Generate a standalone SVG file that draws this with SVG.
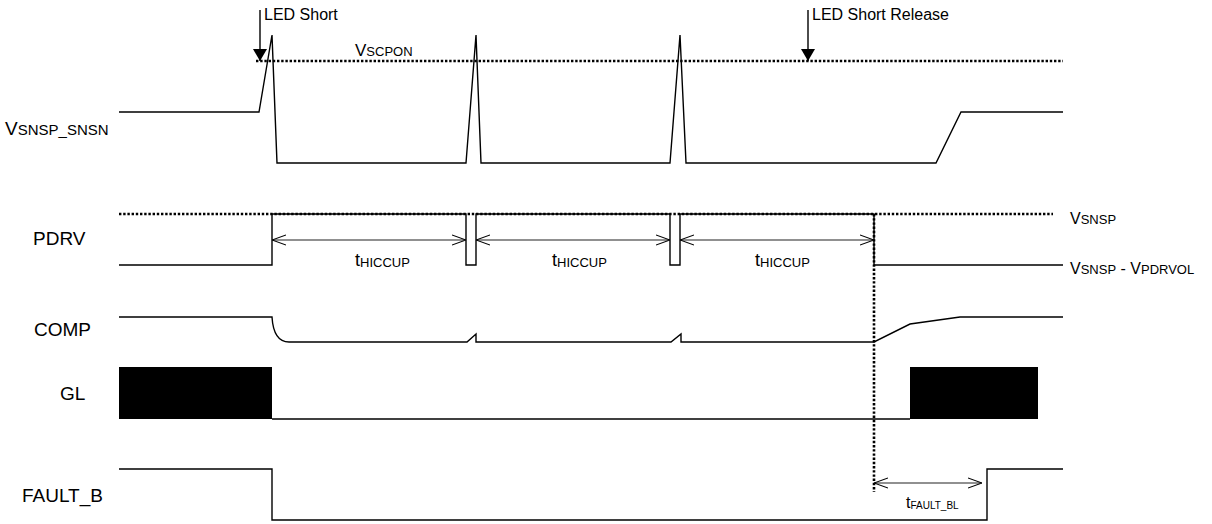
<svg xmlns="http://www.w3.org/2000/svg" width="1212" height="524" viewBox="0 0 1212 524">
<style>
.sig{fill:none;stroke:#000;stroke-width:1.4;stroke-linejoin:miter}
.dot{fill:none;stroke:#000;stroke-width:2.6;stroke-dasharray:2.4 1.8}
.dim{fill:none;stroke:#222;stroke-width:1.1}
.lbl{font-family:"Liberation Sans",Arial,sans-serif;fill:#000}
.blk{fill:#000}
</style>
<defs>
<marker id="open" viewBox="0 0 14 12" refX="14" refY="6" markerWidth="14" markerHeight="12" markerUnits="userSpaceOnUse" orient="auto-start-reverse">
<path d="M0,1 L14,6 L0,11" fill="none" stroke="#000" stroke-width="1.1"/>
</marker>
<marker id="solid" viewBox="0 0 12 14" refX="12" refY="7" markerWidth="12" markerHeight="14" markerUnits="userSpaceOnUse" orient="auto">
<path d="M0,0 L12,7 L0,14 z" fill="#000"/>
</marker>
</defs>

<g id="labels">
<text class="lbl" x="5" y="135" font-size="19">V<tspan font-size="15">SNSP_SNSN</tspan></text>
<text class="lbl" x="33" y="245" font-size="19">PDRV</text>
<text class="lbl" x="34" y="336" font-size="19">COMP</text>
<text class="lbl" x="60" y="400" font-size="19">GL</text>
<text class="lbl" x="22" y="502" font-size="19">FAULT_B</text>
<text class="lbl" x="264" y="20" font-size="16">LED Short</text>
<text class="lbl" x="812" y="20" font-size="16">LED Short Release</text>
<text class="lbl" x="355" y="56" font-size="17">V<tspan font-size="13">SCPON</tspan></text>
<text class="lbl" x="1070" y="224" font-size="16">V<tspan font-size="13">SNSP</tspan></text>
<text class="lbl" x="1070" y="274" font-size="16">V<tspan font-size="13">SNSP</tspan> - V<tspan font-size="13">PDRVOL</tspan></text>
<text class="lbl" x="355" y="266" font-size="18">t<tspan font-size="13" dy="1">HICCUP</tspan></text>
<text class="lbl" x="552" y="266" font-size="18">t<tspan font-size="13" dy="1">HICCUP</tspan></text>
<text class="lbl" x="755" y="266" font-size="18">t<tspan font-size="13" dy="1">HICCUP</tspan></text>
<text class="lbl" x="906" y="508" font-size="16">t<tspan font-size="10" dy="1">FAULT_BL</tspan></text>
</g>

<g id="vsnsp-snsn">
<line class="dot" x1="256" y1="61" x2="1063" y2="61"/>
<polyline class="sig" points="119,112 259,112 272,35 277,163 466,163 476,35 481,163 670,163 680,35 686,163 936,163 961,112 1063,112"/>
</g>

<g id="pdrv">
<line class="dot" x1="119" y1="214" x2="1053" y2="214"/>
<polyline class="sig" points="119,265 272,265 272,214 466,214 466,265 476,265 476,214 670,214 670,265 680,265 680,214 874,214 874,265 1063,265"/>
</g>

<g id="comp">
<path class="sig" d="M119,317 L272,317 C273,333 278,342 289,342 L467,342 L476,334 L476,342 L671,342 L681,334 L681,342 L874,342 L910,324 L960,317 L1063,317"/>
</g>

<g id="gl">
<rect class="blk" x="119" y="367" width="153" height="52"/>
<line class="sig" x1="272" y1="419" x2="910" y2="419"/>
<rect class="blk" x="910" y="367" width="128" height="52"/>
</g>

<g id="fault-b">
<polyline class="sig" points="119,469 272,469 272,520 987,520 987,469 1063,469"/>
</g>

<g id="connectors">
<line class="sig" x1="260" y1="10" x2="260" y2="61" marker-end="url(#solid)"/>
<line class="sig" x1="808" y1="10" x2="808" y2="61" marker-end="url(#solid)"/>
<line class="dim" x1="272" y1="240" x2="466" y2="240" marker-start="url(#open)" marker-end="url(#open)"/>
<line class="dim" x1="476" y1="240" x2="670" y2="240" marker-start="url(#open)" marker-end="url(#open)"/>
<line class="dim" x1="680" y1="240" x2="874" y2="240" marker-start="url(#open)" marker-end="url(#open)"/>
<line class="dot" x1="874" y1="214" x2="874" y2="492"/>
<line class="dim" x1="874" y1="483" x2="982" y2="483" marker-start="url(#open)" marker-end="url(#open)"/>
</g>
</svg>
